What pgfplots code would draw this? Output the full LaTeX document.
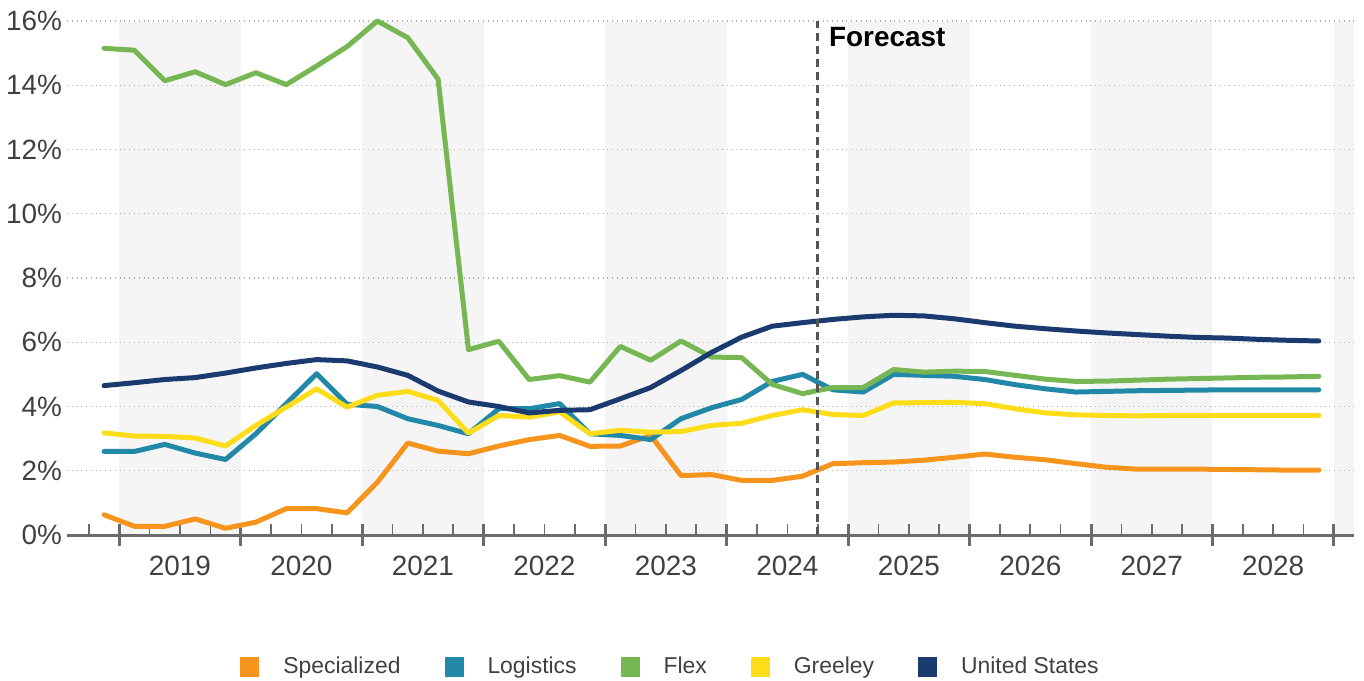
\documentclass[border=0pt]{standalone}
\usepackage{fontspec}
\setmainfont{Liberation Sans}
\usepackage{pgfplots}
\pgfplotsset{compat=1.18}
\usepackage{pgfplotstable}

\definecolor{specorange}{HTML}{F7941D}
\definecolor{logteal}{HTML}{2188A8}
\definecolor{flexgreen}{HTML}{77B753}
\definecolor{greyellow}{HTML}{FDDD1A}
\definecolor{usnavy}{HTML}{1B3A6F}
\definecolor{bandgray}{HTML}{F5F5F5}
\definecolor{axisgray}{HTML}{6B6B6B}
\definecolor{textgray}{HTML}{404040}
\definecolor{gridgray}{HTML}{B0B0B0}
\definecolor{fcgray}{HTML}{555555}

% Vacancy rate (%) by quarter, 2018 Q4 (q=0) to 2028 Q4 (q=40)
\pgfplotstableread{
q  spec  logi  flex   gree  us
0  0.63  2.60  15.15  3.18  4.65
1  0.27  2.60  15.09  3.08  4.74
2  0.27  2.82  14.14  3.07  4.84
3  0.50  2.55  14.42  3.02  4.90
4  0.21  2.35  14.02  2.77  5.04
5  0.40  3.15  14.39  3.41  5.20
6  0.82  4.09  14.02  3.98  5.34
7  0.82  5.02  14.60  4.55  5.46
8  0.69  4.07  15.20  3.98  5.42
9  1.64  4.00  16.00  4.35  5.23
10 2.86  3.62  15.48  4.47  4.97
11 2.61  3.41  14.19  4.19  4.48
12 2.53  3.15  5.77   3.17  4.14
13 2.77  3.93  6.03   3.72  4.00
14 2.97  3.93  4.84   3.67  3.80
15 3.10  4.09  4.96   3.83  3.88
16 2.76  3.15  4.76   3.15  3.90
17 2.77  3.10  5.87   3.26  4.24
18 3.10  2.97  5.44   3.20  4.59
19 1.85  3.62  6.04   3.22  5.12
20 1.88  3.96  5.54   3.41  5.68
21 1.70  4.22  5.52   3.48  6.16
22 1.70  4.78  4.69   3.72  6.50
23 1.83  5.00  4.40   3.90  6.61
24 2.22  4.52  4.59   3.75  6.71
25 2.25  4.45  4.59   3.72  6.79
26 2.27  5.00  5.15   4.11  6.84
27 2.33  4.97  5.07   4.12  6.82
28 2.42  4.94  5.10   4.13  6.73
29 2.52  4.84  5.09   4.09  6.61
30 2.42  4.68  4.97   3.93  6.50
31 2.34  4.55  4.85   3.80  6.42
32 2.22  4.45  4.78   3.74  6.35
33 2.11  4.47  4.79   3.72  6.29
34 2.05  4.49  4.82   3.71  6.24
35 2.05  4.50  4.85   3.72  6.19
36 2.05  4.51  4.87   3.72  6.15
37 2.04  4.52  4.89   3.72  6.13
38 2.03  4.52  4.91   3.72  6.09
39 2.02  4.52  4.92   3.72  6.06
40 2.02  4.52  4.94   3.72  6.04
}\vacancy

\begin{document}
\begin{tikzpicture}
\begin{axis}[
  name=ax,
  set layers,
  scale only axis,
  width=643.5bp, height=257bp,
  xmin=-1.22, xmax=41.16, ymin=0, ymax=16,
  clip=false,
  axis x line*=bottom, axis y line*=left,
  y axis line style={draw=none},
  x axis line style={draw=axisgray, line width=1.5bp},
  % year boundaries: upper half of each major tick
  xtick={0.5,4.5,...,40.5},
  xticklabels={2019,2020,2021,2022,2023,2024,2025,2026,2027,2028},
  x tick label as interval,
  % quarter boundaries
  minor xtick={-0.5,1.5,2.5,3.5,5.5,6.5,7.5,9.5,10.5,11.5,13.5,14.5,15.5,17.5,18.5,19.5,21.5,22.5,23.5,25.5,26.5,27.5,29.5,30.5,31.5,33.5,34.5,35.5,37.5,38.5,39.5},
  % lower half of the year ticks
  extra x ticks={0.5,4.5,...,40.5},
  extra x tick labels={},
  extra x tick style={major tick length=-5.5bp},
  tick align=inside,
  major tick length=5.5bp,
  minor tick length=5.5bp,
  major x tick style={draw=axisgray, line width=1.5bp},
  minor x tick style={draw=axisgray, line width=0.8bp},
  ytick={0,2,...,16},
  ytick style={draw=none},
  ymajorgrids,
  y grid style={gridgray, dotted, line width=0.7bp},
  /pgf/number format/assume math mode=true,
  yticklabel={\pgfmathprintnumber{\tick}\%},
  tick label style={font=\fontsize{14}{16}\selectfont, text=textgray},
  xticklabel style={yshift=-7bp},
  yticklabel style={xshift=1bp},
  legend columns=5,
  legend style={at={(0.4697,-0.2568)}, anchor=center, draw=none, fill=none,
    font=\fontsize{11.5}{14}\selectfont, text=textgray,
    /tikz/every even column/.append style={column sep=20bp},
    /tikz/every odd column/.append style={column sep=10bp}},
  legend image code/.code={\fill[#1, draw=none] (0bp,-5bp) rectangle (9.5bp,5bp);},
  every axis plot/.append style={line width=2.5bp, line join=round, line cap=round},
]
\begin{pgfonlayer}{axis background}
  \fill[bandgray] (axis cs:0.5,0) rectangle (axis cs:4.5,16);
  \fill[bandgray] (axis cs:8.5,0) rectangle (axis cs:12.5,16);
  \fill[bandgray] (axis cs:16.5,0) rectangle (axis cs:20.5,16);
  \fill[bandgray] (axis cs:24.5,0) rectangle (axis cs:28.5,16);
  \fill[bandgray] (axis cs:32.5,0) rectangle (axis cs:36.5,16);
  \fill[bandgray] (axis cs:40.5,0) rectangle (axis cs:41.16,16);
\end{pgfonlayer}

\addplot[color=specorange] table[x=q, y=spec] {\vacancy};
\addlegendentry{Specialized}
\addplot[color=logteal] table[x=q, y=logi] {\vacancy};
\addlegendentry{Logistics}
\addplot[color=flexgreen] table[x=q, y=flex] {\vacancy};
\addlegendentry{Flex}
\addplot[color=greyellow] table[x=q, y=gree] {\vacancy};
\addlegendentry{Greeley}
\addplot[color=usnavy] table[x=q, y=us] {\vacancy};
\addlegendentry{United States}

% start of the forecast period
\addplot[forget plot, color=fcgray, line width=1.5bp, line cap=butt, dash pattern=on 4bp off 2.5bp]
  coordinates {(23.5,0) (23.5,16)};
\node[anchor=north west, inner sep=0pt, font=\fontsize{14}{16}\selectfont\bfseries, text=black]
  at (axis cs:23.5,16) [xshift=5.5bp, yshift=-3bp] {Forecast};
\end{axis}
\pgfresetboundingbox
\path (-33.5bp,-73bp) rectangle (648.5bp,267.5bp);
\end{tikzpicture}
\end{document}
